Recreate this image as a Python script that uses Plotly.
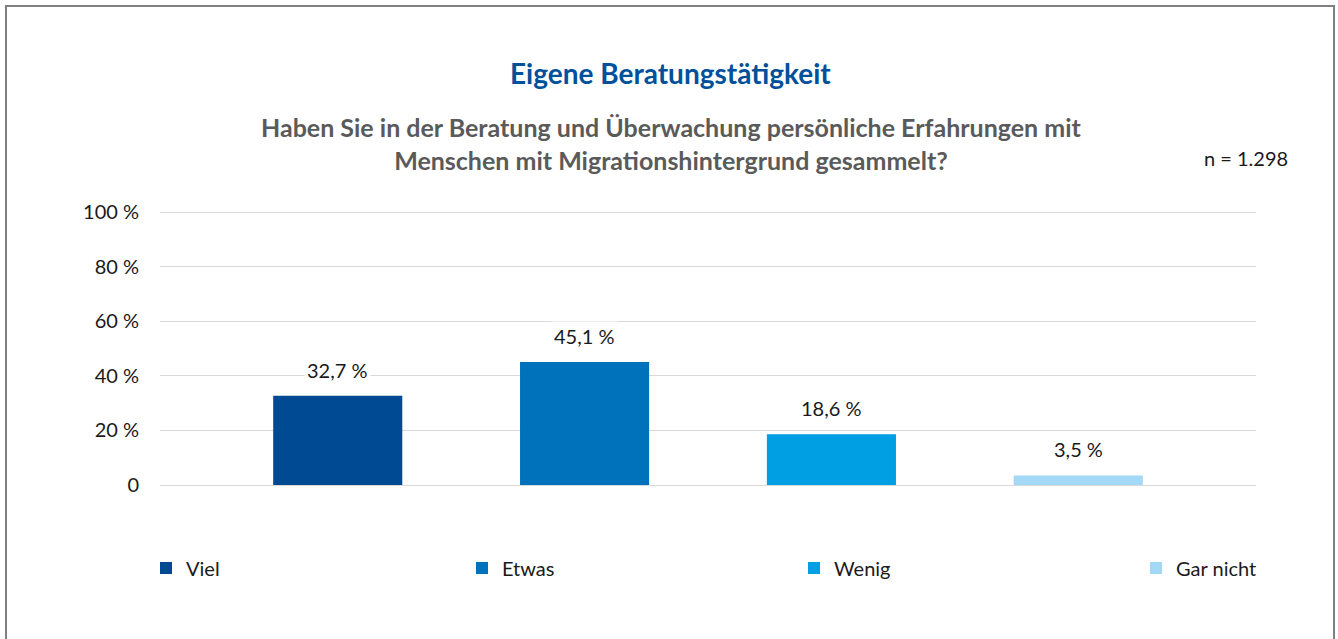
import plotly.graph_objects as go

categories = ["Viel", "Etwas", "Wenig", "Gar nicht"]
values = [32.7, 45.1, 18.6, 3.5]
colors = ["#004a93", "#0072bb", "#009fe3", "#a3d9f6"]
tick_vals = [0, 20, 40, 60, 80, 100]
tick_text = ["0", "20 %", "40 %", "60 %", "80 %", "100 %"]

W, H = 1338, 639
L, R, T, B = 160, 82, 211, 154
pw, ph = W - L - R, H - T - B

def px(x):
    return (x - L) / pw

def py(y):
    return (H - B - y) / ph

FONT = "Lato"
TXT = "#1a1a1a"
fig = go.Figure()
legend_x = [160, 476, 808, 1150]
for i, (c, v, col) in enumerate(zip(categories, values, colors)):
    lname = "legend" if i == 0 else f"legend{i+1}"
    fig.add_trace(go.Bar(x=[c], y=[v], name=c, marker=dict(color=col, line=dict(width=0)),
                         width=0.523, legend=lname, hoverinfo="skip"))
    fig.add_annotation(x=c, y=v, text=f"{v:.1f} %".replace(".", ","), showarrow=False,
                       yanchor="middle", yshift=26, bgcolor="white", borderpad=2,
                       font=dict(family=FONT, size=20, color=TXT))

legends = {}
for i, lx in enumerate(legend_x):
    key = "legend" if i == 0 else f"legend{i+1}"
    legends[key] = dict(x=px(lx - 14), y=py(568), xanchor="left", yanchor="middle",
                        orientation="h", bgcolor="rgba(0,0,0,0)",
                        font=dict(family=FONT, size=20, color=TXT))

fig.update_layout(
    width=W, height=H,
    margin=dict(l=L, r=R, t=T, b=B),
    paper_bgcolor="white", plot_bgcolor="white",
    barmode="overlay",
    showlegend=True,
    xaxis=dict(type="category", range=[-0.72, 3.72], showticklabels=False, showgrid=False,
               zeroline=False, showline=False, fixedrange=True),
    yaxis=dict(range=[0, 100.4], tickvals=tick_vals, ticktext=tick_text, showgrid=True,
               gridcolor="#d9d9d9", gridwidth=1, zeroline=True, zerolinecolor="#d9d9d9",
               zerolinewidth=1, ticks="", ticklabelstandoff=20,
               tickfont=dict(family=FONT, size=20, color=TXT), fixedrange=True),
    **legends,
)

fig.add_annotation(x=px(670), y=py(73), xref="paper", yref="paper", showarrow=False,
                   text="<b>Eigene Beratungstätigkeit</b>", xanchor="center", yanchor="middle",
                   font=dict(family=FONT, size=28, color="#00509b"))
fig.add_annotation(x=px(671), y=py(143), xref="paper", yref="paper", showarrow=False,
                   text="<b>Haben Sie in der Beratung und Überwachung persönliche Erfahrungen mit<br>Menschen mit Migrationshintergrund gesammelt?</b>",
                   xanchor="center", yanchor="middle", align="center",
                   font=dict(family=FONT, size=25, color="#5a5a5a"))
fig.add_annotation(x=px(1290), y=py(158), xref="paper", yref="paper", showarrow=False,
                   text="n = 1.298", xanchor="right", yanchor="middle",
                   font=dict(family=FONT, size=20, color=TXT))

fig.add_shape(type="rect", xref="paper", yref="paper", x0=px(6), x1=px(1334), y0=py(660), y1=py(6),
              line=dict(color="#808080", width=2), fillcolor="rgba(0,0,0,0)", layer="below")

fig.write_html("out.html", config={"displayModeBar": False},
               post_script="document.body.style.margin='0';document.body.style.overflow='hidden';document.documentElement.style.overflow='hidden';")
